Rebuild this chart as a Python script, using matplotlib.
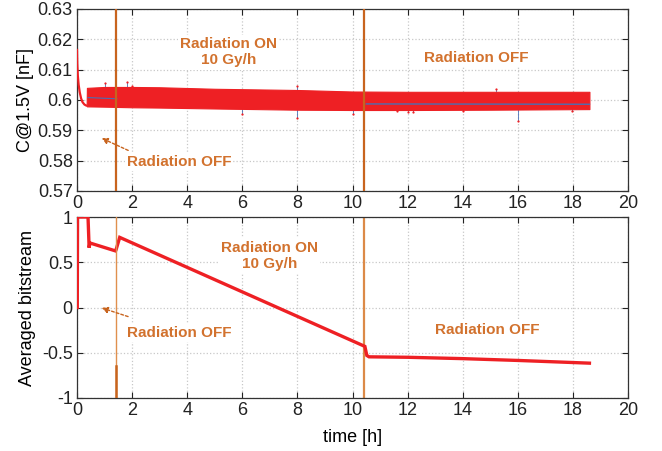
import matplotlib
matplotlib.use("Agg")
import matplotlib.pyplot as plt

plt.rcParams['font.family'] = ['Liberation Sans', 'DejaVu Sans']

# ---- data ----
# top panel: initial transient before band
t_init = [0.0, 0.01, 0.03, 0.06, 0.1, 0.15, 0.2, 0.27, 0.33]
c_init = [0.6165, 0.612, 0.608, 0.605, 0.6025, 0.6005, 0.5993, 0.5985, 0.5982]
# envelope of the noisy capacitance band
t_band = [0.35, 0.36, 1.0, 2.0, 3.0, 5.0, 8.0, 10.0, 12.0, 15.0, 18.6]
c_upper = [0.5982, 0.6040, 0.6043, 0.6043, 0.6042, 0.6037, 0.6033, 0.6028, 0.6027, 0.6027, 0.6027]
c_lower = [0.5982, 0.5979, 0.5978, 0.5976, 0.5975, 0.5972, 0.5968, 0.5967, 0.5967, 0.5968, 0.5970]
# mean (blue) trace
t_mean1 = [0.4, 1.45]
c_mean1 = [0.6008, 0.6004]
t_mean2 = [10.5, 18.6]
c_mean2 = [0.5987, 0.5986]
# outlier spikes
t_out = [1.0, 1.8, 2.0, 6.0, 8.0, 8.0, 10.0, 11.6, 12.0, 12.2, 14.0, 15.2, 16.0, 17.95]
c_out = [0.6057, 0.6058, 0.6045, 0.5953, 0.5942, 0.6046, 0.5955, 0.5965, 0.5960, 0.5962, 0.5963, 0.6036, 0.5930, 0.5963]
c_out_base = [0.6043, 0.6043, 0.6043, 0.5971, 0.5968, 0.6033, 0.5967, 0.5967, 0.5967, 0.5967, 0.5967, 0.6027, 0.5968, 0.5970]

# bottom panel: averaged bitstream
t_bit = [0.0, 0.01, 0.02, 0.40, 0.44, 0.46, 0.50, 1.40, 1.42, 1.55, 10.45, 10.52, 10.6, 12.0, 14.0, 16.0, 18.6]
b_bit = [0.0, 0.0, 1.0, 1.0, 0.66, 0.70, 0.71, 0.625, 0.64, 0.775, -0.43, -0.53, -0.545, -0.55, -0.565, -0.585, -0.615]

t_events = [1.43, 10.43]
x_ticks = [0, 2, 4, 6, 8, 10, 12, 14, 16, 18, 20]
y_ticks_top = [0.57, 0.58, 0.59, 0.60, 0.61, 0.62, 0.63]
y_labels_top = ['0.57', '0.58', '0.59', '0.6', '0.61', '0.62', '0.63']
y_ticks_bot = [-1, -0.5, 0, 0.5, 1]
y_labels_bot = ['-1', '-0.5', '0', '0.5', '1']

RED = '#EE2024'
BLUE = '#4A6FB5'
ORANGE = '#C8641E'
TXT = '#D2722E'

fig = plt.figure(figsize=(6.62, 4.51), dpi=100)
ax1 = fig.add_axes([77/662, 1-191/451, 551/662, 182/451])
ax2 = fig.add_axes([77/662, 1-398/451, 551/662, 181/451])

def style(ax):
    ax.set_xlim(0, 20)
    ax.set_xticks(x_ticks)
    ax.grid(True, color='#C8C8C8', linestyle=':', linewidth=0.9)
    ax.tick_params(direction='in', top=True, right=True, labelsize=13, length=4, width=0.8, pad=3, colors='#222222')
    for s in ax.spines.values():
        s.set_color('#333333')
        s.set_linewidth(0.9)
    ax.set_axisbelow(True)

bbox = dict(facecolor='white', edgecolor='none', pad=1.5)

# ---- top ----
style(ax1)
ax1.set_ylim(0.57, 0.63)
ax1.set_yticks(y_ticks_top)
ax1.set_yticklabels(y_labels_top)
ax1.set_ylabel('C@1.5V [nF]', fontsize=13, labelpad=3)
for i in range(len(t_out)):
    ax1.plot([t_out[i], t_out[i]], [c_out_base[i], c_out[i]], color=BLUE, lw=0.6, zorder=2)
ax1.plot(t_out, c_out, 'o', color=RED, ms=1.6, mew=0, zorder=3)
ax1.plot(t_init, c_init, color=RED, lw=1.6, zorder=3)
ax1.fill_between(t_band, c_lower, c_upper, color=RED, lw=0.8, edgecolor=RED, zorder=3)
ax1.plot(t_mean1, c_mean1, color=BLUE, lw=0.8, zorder=4)
ax1.plot(t_mean2, c_mean2, color=BLUE, lw=1.0, zorder=4)
for te in t_events:
    ax1.axvline(te, color=ORANGE, lw=1.6, zorder=5)
ax1.text(5.5, 0.6158, 'Radiation ON\n10 Gy/h', color=TXT, fontsize=11, fontweight='bold',
         ha='center', va='center', linespacing=1.25, bbox=bbox, zorder=6)
ax1.text(14.5, 0.6138, 'Radiation OFF', color=TXT, fontsize=11, fontweight='bold',
         ha='center', va='center', bbox=bbox, zorder=6)
ax1.text(3.7, 0.5795, 'Radiation OFF', color=TXT, fontsize=11, fontweight='bold',
         ha='center', va='center', bbox=bbox, zorder=6)
ax1.annotate('', xy=(0.8, 0.5878), xytext=(1.95, 0.5830),
             arrowprops=dict(arrowstyle='-|>', color=ORANGE, lw=1.0, linestyle=(0, (2, 1.5)),
                             mutation_scale=9), zorder=6)

# ---- bottom ----
style(ax2)
ax2.set_ylim(-1, 1)
ax2.set_yticks(y_ticks_bot)
ax2.set_yticklabels(y_labels_bot)
ax2.set_ylabel('Averaged bitstream', fontsize=13, labelpad=4)
ax2.set_xlabel('time [h]', fontsize=13, labelpad=7)
ax2.plot(t_bit, b_bit, color=RED, lw=2.4, zorder=3, solid_joinstyle='miter')
ax2.axvline(t_events[0], color='#E0904E', lw=1.0, zorder=5)
ax2.plot([t_events[0], t_events[0]], [-1, -0.65], color=ORANGE, lw=1.8, zorder=5)
ax2.axvline(t_events[1], color='#DC8A48', lw=1.6, zorder=2)
ax2.text(7.0, 0.57, 'Radiation ON\n10 Gy/h', color=TXT, fontsize=11, fontweight='bold',
         ha='center', va='center', linespacing=1.25, bbox=bbox, zorder=6)
ax2.text(14.9, -0.25, 'Radiation OFF', color=TXT, fontsize=11, fontweight='bold',
         ha='center', va='center', bbox=bbox, zorder=6)
ax2.text(3.7, -0.28, 'Radiation OFF', color=TXT, fontsize=11, fontweight='bold',
         ha='center', va='center', bbox=bbox, zorder=6)
ax2.annotate('', xy=(0.8, 0.005), xytext=(1.95, -0.11),
             arrowprops=dict(arrowstyle='-|>', color=ORANGE, lw=1.0, linestyle=(0, (2, 1.5)),
                             mutation_scale=9), zorder=6)

fig.savefig('out.png', dpi=100)
